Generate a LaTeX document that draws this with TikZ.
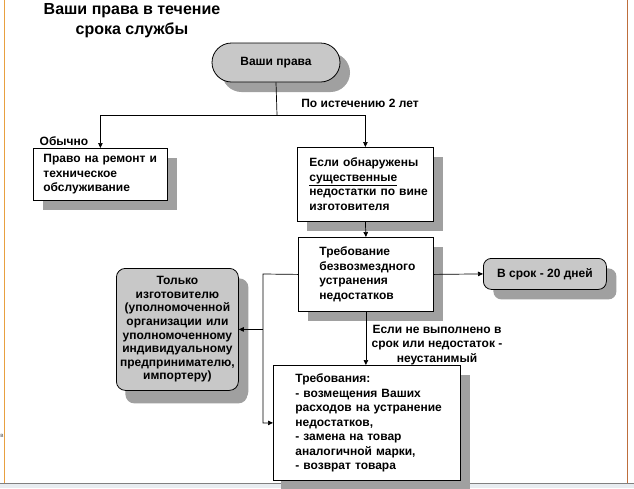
\documentclass[tikz,border=0pt]{standalone}
\usepackage{fontspec}
\setmainfont{Liberation Sans}
\usetikzlibrary{shapes.misc,shadows,arrows.meta}
\definecolor{shadowgray}{RGB}{160,160,160}
\definecolor{boxgray}{RGB}{200,200,200}
\definecolor{frameorange}{RGB}{232,160,64}
\definecolor{framebrown}{RGB}{190,110,60}
\definecolor{bottomgray}{RGB}{232,236,240}
\newcommand{\nbl}[1]{\mbox{#1}}
\begin{document}
\begin{tikzpicture}[x=1pt,y=-1pt,
  txt/.style={font=\bfseries\fontsize{12}{14.5}\selectfont},
  box/.style={txt, draw=black, line width=0.8pt, fill=white, anchor=north west, inner sep=0pt,
    drop shadow={shadow xshift=10pt, shadow yshift=-10pt, fill=shadowgray, opacity=1}},
  gbox/.style={box, fill=boxgray},
  conn/.style={line width=0.7pt},
  arr/.style={conn, -{Triangle[length=5pt,width=4.5pt]}},
  lbl/.style={txt, inner sep=0pt}
]
\useasboundingbox (0,0) rectangle (634,488);
% frame
\fill[bottomgray] (0,483) rectangle (634,488);
\draw[gray, line width=0.8pt] (0,483.5) -- (634,483.5);
\draw[frameorange, line width=1pt] (4.5,0) -- (4.5,483);
\draw[framebrown, line width=1pt] (627.5,0) -- (627.5,483);
\node[inner sep=0pt, font=\fontsize{6}{7}\selectfont, text=black!70] (cut) at (2,436) {в};

% title
\node[inner sep=0pt, align=center, font=\bfseries\fontsize{16}{20}\selectfont] (title) at (132,21) {Ваши права в течение\\срока службы};

% nodes
\node[gbox, rounded rectangle, anchor=center, minimum width=128pt, minimum height=39pt] (vp) at (276,62.5) {Ваши права};
\node[box, minimum width=134pt, minimum height=52pt, text width=114pt, align=left] (pravo) at (33,148)
  {\nbl{Право на ремонт и}\\\nbl{техническое}\\\nbl{обслуживание}};
\node[box, minimum width=136pt, minimum height=74pt, text width=112pt, align=left] (esli) at (297,147)
  {\nbl{Если обнаружены}\\\nbl{\underline{существенные}}\\\nbl{недостатки по вине}\\\nbl{изготовителя}};
\node[box, minimum width=135pt, minimum height=74pt, text width=93pt, align=left] (treb) at (298,237)
  {\nbl{Требование}\\\nbl{безвозмездного}\\\nbl{устранения}\\\nbl{недостатков}};
\node[gbox, rounded corners=8pt, minimum width=123pt, minimum height=31pt, align=center] (vsrok) at (483,258)
  {В срок - 20 дней};
\node[gbox, rounded corners=9pt, minimum width=122pt, minimum height=122pt, text width=118pt, align=center,
  font=\bfseries\fontsize{12}{13.6}\selectfont,
  drop shadow={shadow xshift=9pt, shadow yshift=-13pt, fill=shadowgray, opacity=1}] (tolko) at (116,268)
  {Только\\изготовителю\\(уполномоченной\\организации или\\уполномоченному\\индивидуальному\\предпринимателю,\\импортеру)};
\node[box, minimum width=187pt, minimum height=115pt, text width=143pt, align=left,
  drop shadow={shadow xshift=8pt, shadow yshift=-13pt, fill=shadowgray, opacity=1}] (treby) at (273,365)
  {\nbl{Требования:}\\\nbl{- возмещения Ваших}\\\nbl{расходов на устранение}\\\nbl{недостатков,}\\\nbl{- замена на товар}\\\nbl{аналогичной марки,}\\\nbl{- возврат товара}};

% labels
\node[lbl] (lblobych) at (64,141) {Обычно};
\node[lbl] (lbl2) at (360,103) {По истечению 2 лет};
\node[lbl, align=center] (lblesli) at (437,345) {Если не выполнено в\\срок или недостаток -\\неустанимый};

% connectors
\coordinate (j1) at (277,115);
\coordinate (c1) at (263,274);
\draw[conn] (vp.south) -- (j1);
\draw[arr] (j1) -| (pravo.north);
\draw[arr] (j1) -| (esli.north);
\draw[arr] (esli.south) -- (treb.north);
\draw[arr] (treb.east) -- (vsrok.west);
\draw[arr] (treb.west) -- (c1) |- (treby.west);
\draw[arr] (tolko.east -| c1) -- (tolko.east);
\draw[arr] (treb.south) -- (treb.south |- treby.north);
\end{tikzpicture}
\end{document}
